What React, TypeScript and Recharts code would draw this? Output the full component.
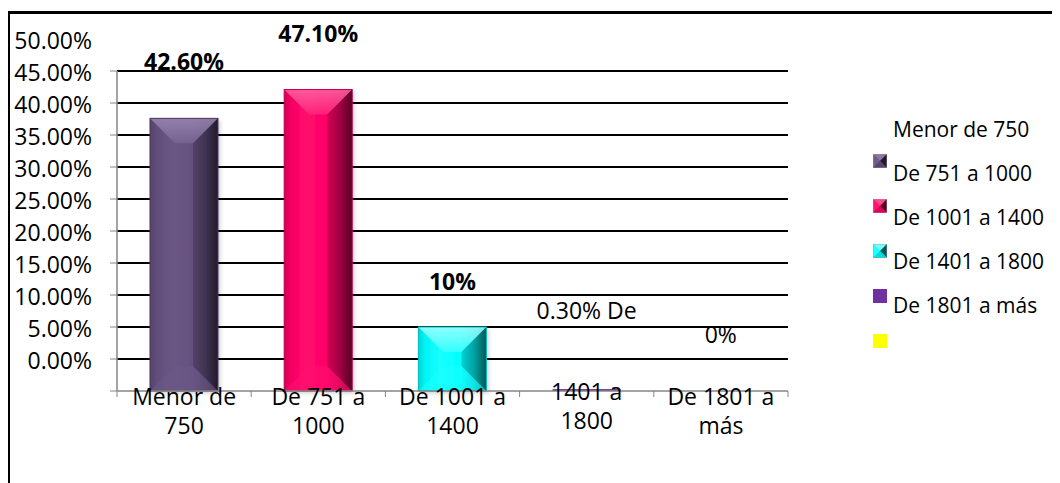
import React from "react";
import { BarChart, Bar, XAxis, YAxis, CartesianGrid, Legend, LabelList } from "recharts";

// ---- data ----
const categories = ["Menor de 750", "De 751 a 1000", "De 1001 a 1400", "De 1401 a 1800", "De 1801 a más"];
const values = [42.6, 47.1, 10, 0.3, 0];
const valueLabels = ["42.60%", "47.10%", "10%", "0.30% De", "0%"];
const xTickLines = [
  ["Menor de", "750"],
  ["De 751 a", "1000"],
  ["De 1001 a", "1400"],
  ["1401 a", "1800"],
  ["De 1801 a", "más"],
];
const yTicks = [0, 5, 10, 15, 20, 25, 30, 35, 40, 45, 50];
const gridValues = [5, 10, 15, 20, 25, 30, 35, 40, 45, 50];

// ---- style ----
const FONT = "'Open Sans', 'Noto Sans', sans-serif";
const W = 1052;
const H = 475;
const MARGIN = { top: 63, right: 272, bottom: 32, left: 29 };
const YAXIS_W = 80;
const XAXIS_H = 60;
const PLOT_H = H - MARGIN.top - MARGIN.bottom - XAXIS_H;
const PLOT_W = W - MARGIN.left - MARGIN.right - YAXIS_W;
const PLOT_BOTTOM = H - MARGIN.bottom - XAXIS_H;
const Y_STEP_PX = (PLOT_H * 5) / 50;
const AXIS_GRAY = "#868686";

const barColors = [
  { base: "#65507F", light: "#9a88b3", dark: "#221a2c" },
  { base: "#FF0066", light: "#ff66a3", dark: "#560024" },
  { base: "#00FFFF", light: "#a6ffff", dark: "#005656" },
  { base: "#7030A0" },
  { base: "#FFFF00" },
];
const boldLabel = [true, true, true, false, false];
const labelLift = [48, 48, 37, 70, 48];
const xLabelShift = [0, 0, 0, -5, 0];

const rows = categories.map((name, i) => ({ name, value: values[i], label: valueLabels[i] }));

function hex(c: string) {
  const n = parseInt(c.slice(1), 16);
  return [(n >> 16) & 255, (n >> 8) & 255, n & 255];
}
function mix(a: string, b: string, t: number) {
  const A = hex(a);
  const B = hex(b);
  const r = A.map((v, k) => Math.round(v + (B[k] - v) * t));
  return `rgb(${r[0]},${r[1]},${r[2]})`;
}

function BevelBar(props: any) {
  const { x, y, width: w, height: h, index } = props;
  if (!h || h <= 0) return null;
  const c: any = barColors[index];
  if (!c.light || h < 6) return <rect x={x} y={y} width={w} height={h} fill={c.base} />;
  const d = Math.min(25, h / 2.4, w / 2.6);
  const id = `bev${index}`;
  return (
    <g>
      <defs>
        <filter id={`${id}s`} x="-20%" y="-20%" width="140%" height="140%">
          <feDropShadow dx="2" dy="2" stdDeviation="2" floodColor="#000" floodOpacity="0.2" />
        </filter>
        <linearGradient id={`${id}b`} x1="0" x2="1" y1="0" y2="0">
          <stop offset="0" stopColor={mix(c.base, c.dark, 0.25)} />
          <stop offset="0.1" stopColor={mix(c.base, c.dark, 0.06)} />
          <stop offset="0.32" stopColor={mix(c.base, c.light, 0.12)} />
          <stop offset="0.62" stopColor={c.base} />
          <stop offset="0.82" stopColor={mix(c.base, c.dark, 0.4)} />
          <stop offset="1" stopColor={c.dark} />
        </linearGradient>
        <linearGradient id={`${id}t`} x1="0" x2="0" y1="0" y2="1">
          <stop offset="0" stopColor={c.light} />
          <stop offset="1" stopColor={mix(c.base, c.light, 0.35)} />
        </linearGradient>
      </defs>
      <g filter={`url(#${id}s)`}>
        <rect x={x} y={y} width={w} height={h} fill={`url(#${id}b)`} />
      </g>
      <polygon
        points={`${x},${y} ${x + w},${y} ${x + w - d},${y + d} ${x + d},${y + d}`}
        fill={`url(#${id}t)`}
        opacity={0.85}
      />
      <polygon
        points={`${x},${y + h} ${x + w},${y + h} ${x + w - d},${y + h - d} ${x + d},${y + h - d}`}
        fill={mix(c.base, c.light, 0.15)}
        opacity={0.6}
      />
      <polygon
        points={`${x + w},${y} ${x + w},${y + h} ${x + w - d},${y + h - d} ${x + w - d},${y + d}`}
        fill={c.dark}
        opacity={0.25}
      />
      <rect x={x} y={y} width={w} height={h} fill="none" stroke={mix(c.base, c.dark, 0.4)} strokeWidth={1} />
    </g>
  );
}

function YTick(props: any) {
  const { x, y, payload } = props;
  return (
    <text x={x - 16} y={y - Y_STEP_PX + 10} textAnchor="end" fontFamily={FONT} fontSize={23} fill="#000">
      {`${Number(payload.value).toFixed(2)}%`}
    </text>
  );
}

function XTick(props: any) {
  const { x, index } = props;
  const half = PLOT_W / categories.length / 2;
  const base = PLOT_BOTTOM;
  const lines = xTickLines[index] || [];
  return (
    <g>
      <line x1={x - half} x2={x - half} y1={base} y2={base + 6} stroke={AXIS_GRAY} />
      {index === categories.length - 1 && (
        <line x1={x + half} x2={x + half} y1={base} y2={base + 6} stroke={AXIS_GRAY} />
      )}
      <text textAnchor="middle" fontFamily={FONT} fontSize={23} fill="#000">
        {lines.map((l, k) => (
          <tspan key={k} x={x} y={base + 14 + xLabelShift[index] + k * 29}>
            {l}
          </tspan>
        ))}
      </text>
    </g>
  );
}

function ValueLabel(props: any) {
  const vb = props.viewBox || props;
  let i = props.index;
  if (i === undefined || i === null) i = valueLabels.indexOf(props.value);
  const cx = vb.x + vb.width / 2;
  const top = Math.min(vb.y, vb.y + vb.height);
  return (
    <text
      x={cx}
      y={top - labelLift[i]}
      textAnchor="middle"
      fontFamily={FONT}
      fontSize={23}
      fontWeight={boldLabel[i] ? 700 : 400}
      fill="#000"
    >
      {props.value}
    </text>
  );
}

function LegendSwatch({ i }: { i: number }) {
  const c: any = barColors[i];
  if (!c.light) return <rect width={14} height={14} fill={c.base} />;
  return (
    <g>
      <rect width={14} height={14} fill={c.base} />
      <polygon points="0,0 14,0 7,7" fill={c.light} opacity={0.7} />
      <polygon points="0,0 7,7 0,14" fill={mix(c.base, c.light, 0.2)} />
      <polygon points="14,0 14,14 7,7" fill={c.dark} />
      <polygon points="0,14 14,14 7,7" fill={mix(c.base, c.dark, 0.2)} />
      <rect width={14} height={14} fill="none" stroke="#999" strokeWidth={0.8} />
    </g>
  );
}

const renderLegend = () => (
  <div style={{ position: "relative", width: 190, height: 260, fontFamily: FONT, fontSize: 21, color: "#000" }}>
    {categories.map((name, i) => (
      <React.Fragment key={name}>
        <div
          style={{
            position: "absolute",
            left: 33,
            top: 20 + i * 43.8 - 15.6,
            lineHeight: "30px",
            whiteSpace: "nowrap",
          }}
        >
          {name}
        </div>
        <svg style={{ position: "absolute", left: 13, top: 51 + i * 45 - 7 }} width={14} height={14}>
          <LegendSwatch i={i} />
        </svg>
      </React.Fragment>
    ))}
  </div>
);

export default function App() {
  return (
    <div style={{ position: "relative", width: W, height: H, overflow: "hidden", background: "#fff" }}>
      <div
        style={{
          position: "absolute",
          left: 0,
          top: 3,
          width: 1200,
          height: 600,
          borderTop: "3px solid #000",
          borderLeft: "2px solid #000",
        }}
      />
      <div style={{ position: "absolute", left: 0, top: 0 }}>
        <BarChart width={W} height={H} data={rows} margin={MARGIN} barSize={68}>
          <CartesianGrid
            horizontal
            vertical={false}
            horizontalValues={gridValues}
            stroke="#000"
            strokeWidth={2}
          />
          <XAxis
            dataKey="name"
            interval={0}
            height={XAXIS_H}
            tickLine={false}
            tickSize={6}
            tickMargin={0}
            axisLine={{ stroke: AXIS_GRAY, strokeWidth: 1.5 }}
            tick={<XTick />}
          />
          <YAxis
            width={YAXIS_W}
            domain={[0, 50]}
            ticks={yTicks}
            interval={0}
            tickSize={7}
            tickMargin={2}
            axisLine={{ stroke: AXIS_GRAY, strokeWidth: 1.5 }}
            tickLine={{ stroke: AXIS_GRAY }}
            tick={<YTick />}
          />
          <Legend
            layout="vertical"
            align="center"
            verticalAlign="middle"
            content={renderLegend}
            wrapperStyle={{ left: 852, top: 102, width: 190, height: 260 }}
          />
          <Bar dataKey="value" isAnimationActive={false} shape={<BevelBar />}>
            <LabelList dataKey="label" content={<ValueLabel />} />
          </Bar>
        </BarChart>
      </div>
    </div>
  );
}
